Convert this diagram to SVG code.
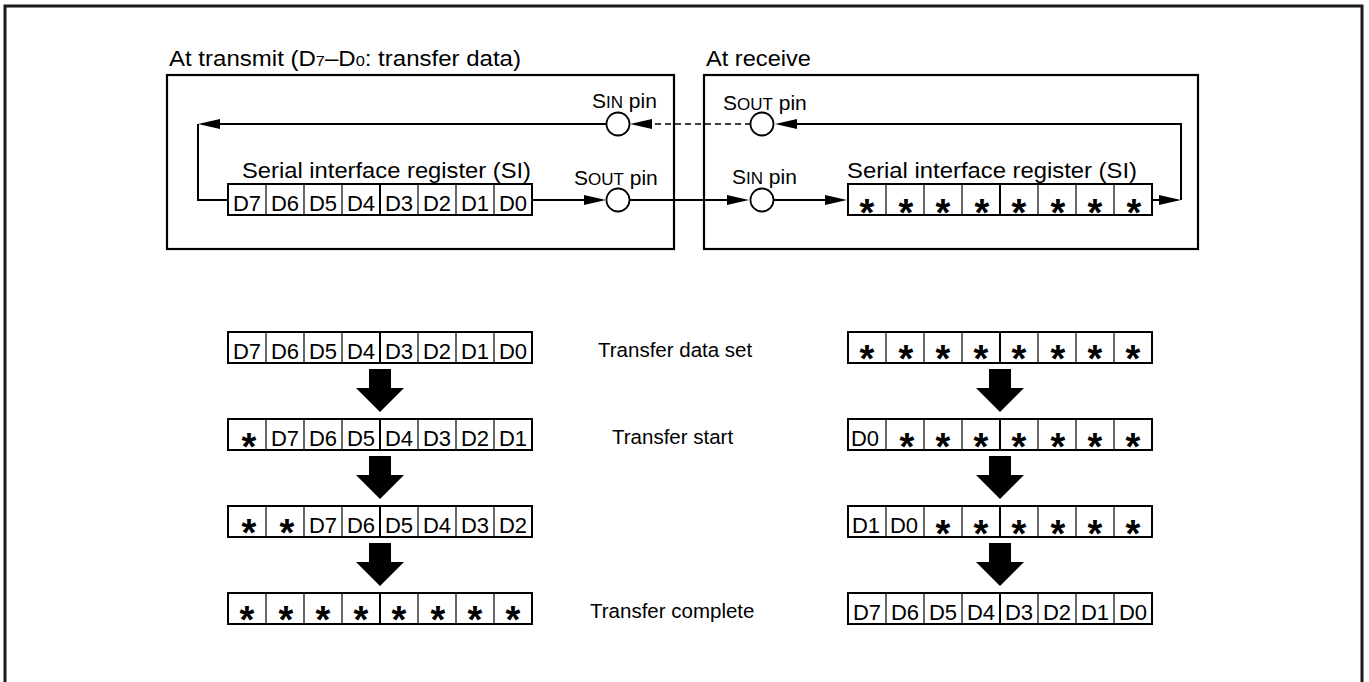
<svg xmlns="http://www.w3.org/2000/svg" width="1369" height="682" viewBox="0 0 1369 682">
<defs>
<style>
text{font-family:"Liberation Sans",Arial,Helvetica,sans-serif;fill:#000}
.frame{fill:none;stroke:#1a1a1a;stroke-width:3}
.box{fill:none;stroke:#000;stroke-width:2.2}
.reg{fill:#fff;stroke:#000;stroke-width:2}
.dv{stroke:#000;stroke-width:1.2}
.mid{stroke:#000;stroke-width:2}
.c{font-size:22px;text-anchor:middle}
.a{font-size:38px;font-weight:bold;text-anchor:middle}
.lbl{font-size:22px}
.lb2{font-size:20.5px}
.pin{fill:#fff;stroke:#000;stroke-width:1.8}
.ln{fill:none;stroke:#000;stroke-width:2}
.dash{fill:none;stroke:#000;stroke-width:1.6;stroke-dasharray:6 4}
.big{fill:#000}
</style>
<marker id="ah" viewBox="0 0 22 10" refX="18" refY="5" markerWidth="22" markerHeight="10" markerUnits="userSpaceOnUse" orient="auto"><path d="M0,0L22,5L0,10z" fill="#000"/></marker>
<g id="regf">
<rect class="reg" x="0" y="0" width="304" height="31"/>
<line class="dv" x1="38" y1="0" x2="38" y2="31"/>
<line class="dv" x1="76" y1="0" x2="76" y2="31"/>
<line class="dv" x1="114" y1="0" x2="114" y2="31"/>
<line class="mid" x1="152" y1="0" x2="152" y2="31"/>
<line class="dv" x1="190" y1="0" x2="190" y2="31"/>
<line class="dv" x1="228" y1="0" x2="228" y2="31"/>
<line class="dv" x1="266" y1="0" x2="266" y2="31"/>
</g>
<polygon id="down" class="big" points="-11,0 11,0 11,19 24,19 0,43 -24,19 -11,19"/>
</defs>
<rect width="1369" height="682" fill="#fff"/>
<path class="frame" d="M5,690V6H1362V690"/>

<g id="transmit">
<text class="lbl" x="169" y="66" textLength="352" lengthAdjust="spacingAndGlyphs">At transmit (D<tspan font-size="15">7</tspan>–D<tspan font-size="15">0</tspan>: transfer data)</text>
<rect class="box" x="167" y="75" width="507" height="174"/>
</g>
<g id="receive">
<text class="lbl" x="706" y="66" textLength="105" lengthAdjust="spacingAndGlyphs">At receive</text>
<rect class="box" x="704" y="75" width="494" height="174"/>
</g>

<g id="connectors">
<path class="ln" d="M606,124H202" marker-end="url(#ah)"/>
<path class="ln" d="M198,124V200H228"/>
<path class="dash" d="M751,124H634" marker-end="url(#ah)"/>
<path class="ln" d="M1152,200H1177" marker-end="url(#ah)"/>
<path class="ln" d="M1181,200V124H779" marker-end="url(#ah)"/>
<path class="ln" d="M532,200H602" marker-end="url(#ah)"/>
<path class="ln" d="M629,200H745" marker-end="url(#ah)"/>
<path class="ln" d="M774,200H843" marker-end="url(#ah)"/>
</g>

<g id="tx-sin-pin">
<circle class="pin" cx="618" cy="124" r="11.5"/>
<text x="592" y="108"><tspan font-size="21">S</tspan><tspan font-size="17">IN</tspan><tspan font-size="21"> pin</tspan></text>
</g>
<g id="tx-sout-pin">
<circle class="pin" cx="618" cy="200" r="11.5"/>
<text x="574" y="185"><tspan font-size="21">S</tspan><tspan font-size="17">OUT</tspan><tspan font-size="21"> pin</tspan></text>
</g>
<g id="rx-sout-pin">
<circle class="pin" cx="762" cy="124" r="11.5"/>
<text x="723" y="110"><tspan font-size="21">S</tspan><tspan font-size="17">OUT</tspan><tspan font-size="21"> pin</tspan></text>
</g>
<g id="rx-sin-pin">
<circle class="pin" cx="762" cy="200" r="11.5"/>
<text x="732" y="184"><tspan font-size="21">S</tspan><tspan font-size="17">IN</tspan><tspan font-size="21"> pin</tspan></text>
</g>

<g id="tx-register">
<text class="lbl" x="242" y="178" textLength="289" lengthAdjust="spacingAndGlyphs">Serial interface register (SI)</text>
<use href="#regf" x="228" y="184"/>
<text class="c" y="211"><tspan x="247">D7</tspan><tspan x="285">D6</tspan><tspan x="323">D5</tspan><tspan x="361">D4</tspan><tspan x="399">D3</tspan><tspan x="437">D2</tspan><tspan x="475">D1</tspan><tspan x="513">D0</tspan></text>
</g>
<g id="rx-register">
<text class="lbl" x="847" y="178" textLength="290" lengthAdjust="spacingAndGlyphs">Serial interface register (SI)</text>
<use href="#regf" x="848" y="184"/>
<text class="a" y="226"><tspan x="867">*</tspan><tspan x="906">*</tspan><tspan x="943">*</tspan><tspan x="982">*</tspan><tspan x="1019">*</tspan><tspan x="1058">*</tspan><tspan x="1095">*</tspan><tspan x="1134">*</tspan></text>
</g>

<g id="tx-row1">
<use href="#regf" x="228" y="332"/>
<text class="c" y="359"><tspan x="247">D7</tspan><tspan x="285">D6</tspan><tspan x="323">D5</tspan><tspan x="361">D4</tspan><tspan x="399">D3</tspan><tspan x="437">D2</tspan><tspan x="475">D1</tspan><tspan x="513">D0</tspan></text>
</g>
<g id="tx-row2">
<use href="#regf" x="228" y="419"/>
<text class="a" x="249" y="460">*</text>
<text class="c" y="446"><tspan x="285">D7</tspan><tspan x="323">D6</tspan><tspan x="361">D5</tspan><tspan x="399">D4</tspan><tspan x="437">D3</tspan><tspan x="475">D2</tspan><tspan x="513">D1</tspan></text>
</g>
<g id="tx-row3">
<use href="#regf" x="228" y="506"/>
<text class="a" y="546"><tspan x="249">*</tspan><tspan x="287">*</tspan></text>
<text class="c" y="533"><tspan x="323">D7</tspan><tspan x="361">D6</tspan><tspan x="399">D5</tspan><tspan x="437">D4</tspan><tspan x="475">D3</tspan><tspan x="513">D2</tspan></text>
</g>
<g id="tx-row4">
<use href="#regf" x="228" y="593"/>
<text class="a" y="633"><tspan x="247">*</tspan><tspan x="286">*</tspan><tspan x="323">*</tspan><tspan x="361">*</tspan><tspan x="399">*</tspan><tspan x="438">*</tspan><tspan x="475">*</tspan><tspan x="513">*</tspan></text>
</g>

<g id="rx-row1">
<use href="#regf" x="848" y="332"/>
<text class="a" y="372"><tspan x="867">*</tspan><tspan x="906">*</tspan><tspan x="943">*</tspan><tspan x="981">*</tspan><tspan x="1019">*</tspan><tspan x="1058">*</tspan><tspan x="1095">*</tspan><tspan x="1133">*</tspan></text>
</g>
<g id="rx-row2">
<use href="#regf" x="848" y="419"/>
<text class="c" x="865" y="446">D0</text>
<text class="a" y="460"><tspan x="907">*</tspan><tspan x="943">*</tspan><tspan x="981">*</tspan><tspan x="1019">*</tspan><tspan x="1058">*</tspan><tspan x="1095">*</tspan><tspan x="1133">*</tspan></text>
</g>
<g id="rx-row3">
<use href="#regf" x="848" y="506"/>
<text class="c" y="533"><tspan x="866">D1</tspan><tspan x="904">D0</tspan></text>
<text class="a" y="547"><tspan x="943">*</tspan><tspan x="981">*</tspan><tspan x="1019">*</tspan><tspan x="1058">*</tspan><tspan x="1095">*</tspan><tspan x="1133">*</tspan></text>
</g>
<g id="rx-row4">
<use href="#regf" x="848" y="593"/>
<text class="c" y="620"><tspan x="867">D7</tspan><tspan x="905">D6</tspan><tspan x="943">D5</tspan><tspan x="981">D4</tspan><tspan x="1019">D3</tspan><tspan x="1057">D2</tspan><tspan x="1095">D1</tspan><tspan x="1133">D0</tspan></text>
</g>

<g id="shift-arrows">
<use href="#down" x="380" y="369"/>
<use href="#down" x="380" y="456"/>
<use href="#down" x="380" y="543"/>
<use href="#down" x="1000" y="369"/>
<use href="#down" x="1000" y="456"/>
<use href="#down" x="1000" y="543"/>
</g>

<g id="step-labels">
<text class="lb2" x="598" y="357">Transfer data set</text>
<text class="lb2" x="612" y="444">Transfer start</text>
<text class="lb2" x="590" y="618">Transfer complete</text>
</g>
</svg>
